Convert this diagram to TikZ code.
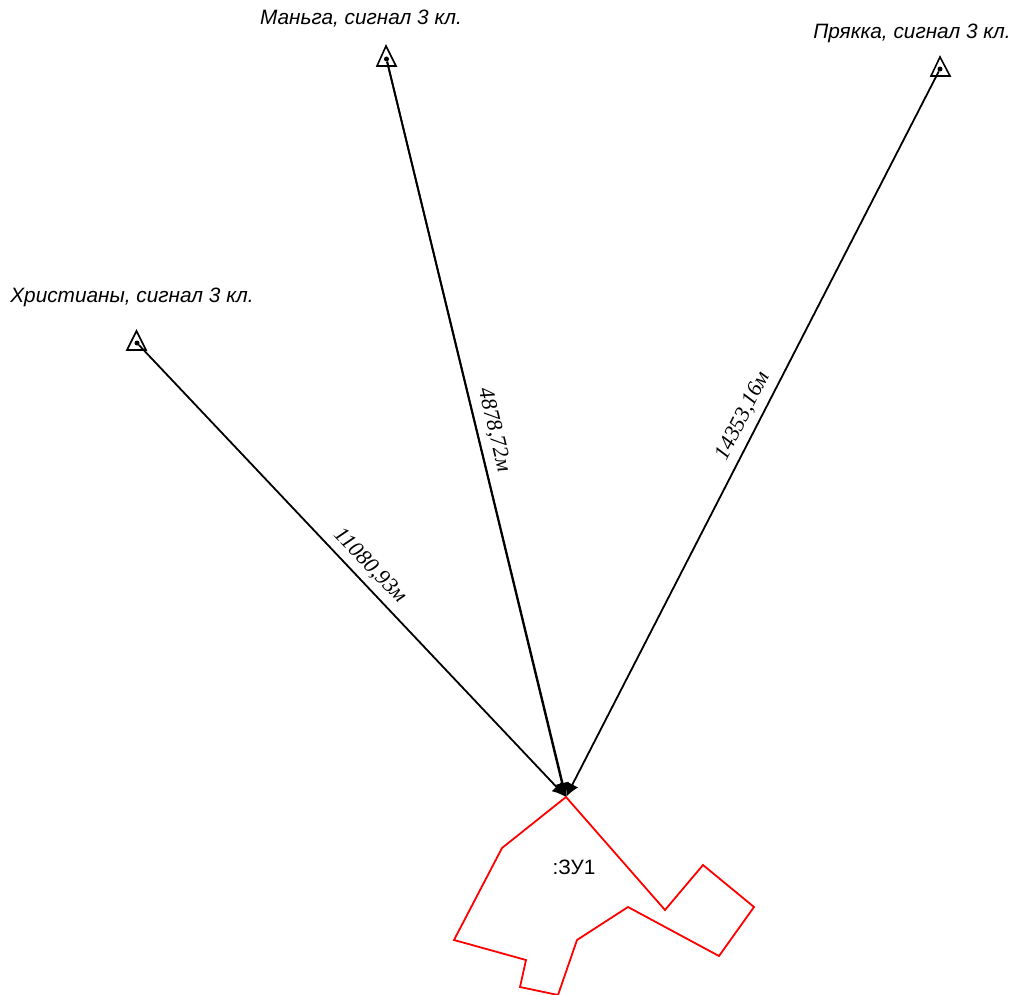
\documentclass[tikz,border=0pt]{standalone}
\usepackage{fontspec}
\setmainfont{Liberation Sans}
\newfontfamily\serifit[Scale=1]{Liberation Serif}
\usetikzlibrary{arrows.meta}
\tikzset{
  x=1pt,y=-1pt,
  ray/.style={draw=black,line width=1.8pt,-{Latex[length=14pt,width=13pt]}},
  station/.style={draw=black,line width=1.6pt,line join=miter},
  dotmark/.style={circle,fill=black,inner sep=0pt,minimum size=5pt},
  stationlabel/.style={font=\itshape\fontsize{20.8}{24}\selectfont,inner sep=0pt,anchor=base},
  distlabel/.style={font=\serifit\itshape\fontsize{22}{25}\selectfont,inner sep=0pt},
  parcel/.style={draw=red,line width=1.8pt,line join=miter}
}
\begin{document}
\begin{tikzpicture}
\useasboundingbox (0,0) rectangle (1015,995);
\coordinate (T) at (566,797);
\node[dotmark] (m) at (386.5,59) {};
\node[dotmark] (h) at (137,343) {};
\node[dotmark] (p) at (940,69) {};
\draw[station] (386,46) -- (377,66) -- (396,66) -- cycle;
\draw[station] (136.5,331) -- (127,350) -- (146,350) -- cycle;
\draw[station] (940,57) -- (931,76) -- (950,76) -- cycle;
\draw[ray] (h) -- (T);
\draw[ray] (m) -- (T);
\draw[ray] (m) -- ([xshift=-0.7pt]T);
\draw[ray] (p) -- (T);
\draw[parcel] (566,797) -- (665,910) -- (703,865) -- (754,907) -- (719,956) -- (628,907) -- (577,940) -- (558,995) -- (520,987) -- (526,960) -- (454,940) -- (502,848) -- cycle;
\node[stationlabel] (lm) at (361,25) {Маньга, сигнал 3 кл.};
\node[stationlabel] (lp) at (912,39) {Прякка, сигнал 3 кл.};
\node[stationlabel] (lh) at (132,302) {Христианы, сигнал 3 кл.};
\node[distlabel,rotate=-46] (dh) at (370,566) {11080,93м};
\node[distlabel,rotate=-76.5] (dm) at (494,430) {4878,72м};
\node[distlabel,rotate=63] (dp) at (743,416) {14353,16м};
\node[font=\fontsize{20.8}{24}\selectfont,inner sep=0pt] (z) at (574,867) {:ЗУ1};
\end{tikzpicture}
\end{document}
